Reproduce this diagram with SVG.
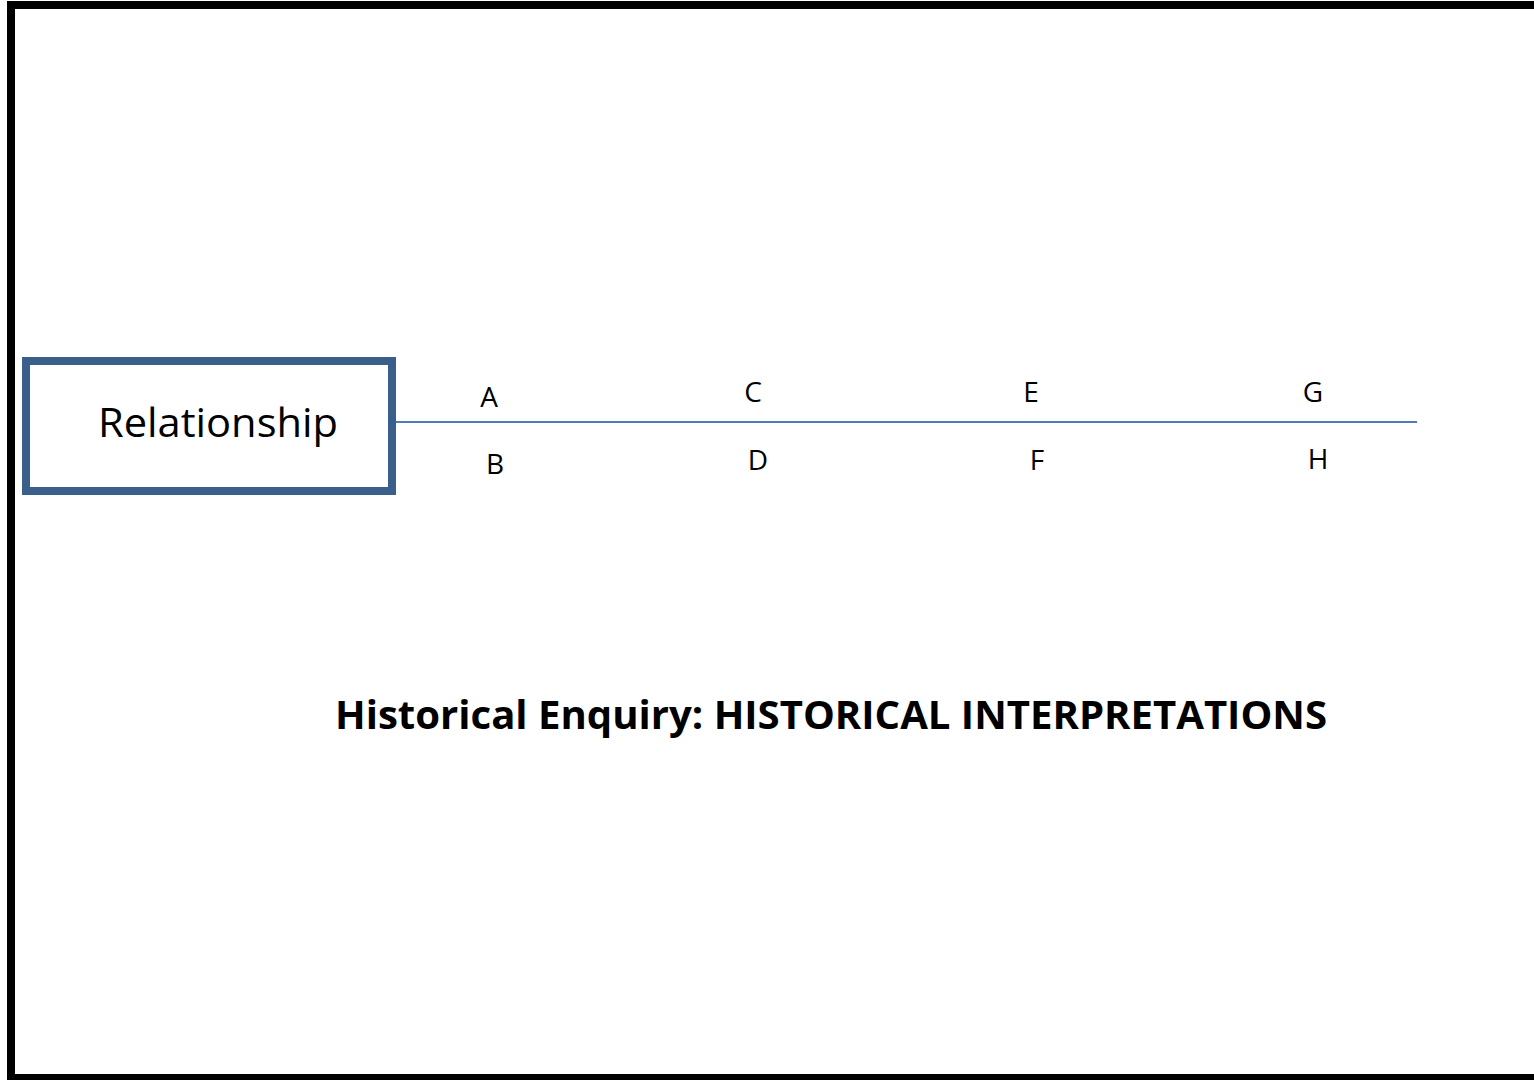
<svg xmlns="http://www.w3.org/2000/svg" width="1534" height="1080" viewBox="0 0 1534 1080">
<style>
.t{font-family:"Open Sans","Liberation Sans",sans-serif;fill:#000}
.l{font-size:28px;text-anchor:middle}
</style>
<rect width="1534" height="1080" fill="#fff"/>
<rect id="frame" x="11" y="5" width="1540" height="1073" fill="none" stroke="#000" stroke-width="8"/>
<g id="connectors">
<line x1="396" y1="422" x2="1417" y2="422" stroke="#4A7EBB" stroke-width="2"/>
</g>
<g id="relationship">
<rect x="26" y="361" width="366" height="130" fill="#fff" stroke="#3A5F8B" stroke-width="8"/>
<text class="t" x="98" y="437" font-size="40" textLength="240" lengthAdjust="spacingAndGlyphs">Relationship</text>
</g>
<g id="labels">
<text class="t l" x="489" y="407">A</text>
<text class="t l" x="495" y="474">B</text>
<text class="t l" x="753" y="402">C</text>
<text class="t l" x="758" y="470">D</text>
<text class="t l" x="1031" y="402">E</text>
<text class="t l" x="1037" y="470">F</text>
<text class="t l" x="1313" y="402">G</text>
<text class="t l" x="1318" y="469">H</text>
</g>
<g id="title">
<text class="t" x="335" y="729" font-size="40" font-weight="bold" textLength="992" lengthAdjust="spacingAndGlyphs">Historical Enquiry: HISTORICAL INTERPRETATIONS</text>
</g>
</svg>
